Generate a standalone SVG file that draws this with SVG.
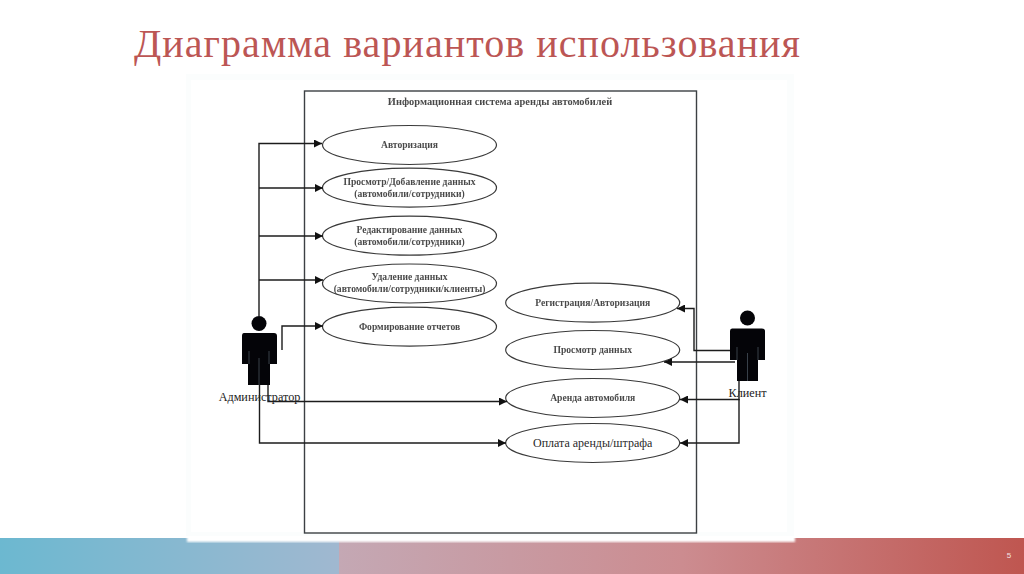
<svg xmlns="http://www.w3.org/2000/svg" width="1024" height="574" viewBox="0 0 1024 574">
<style>
.u{fill:#fff;stroke:#3a3a3a;stroke-width:1.2}
.c{fill:none;stroke:#1c1c1c;stroke-width:1.4}
.t{font-family:"Liberation Serif","DejaVu Serif",serif;font-size:9.6px;fill:#2a2a2a;text-anchor:middle;font-weight:bold;opacity:.85}
.a{font-family:"Liberation Serif","DejaVu Serif",serif;font-size:12.2px;fill:#222;text-anchor:middle}
.p{fill:#040408}
</style>
<defs>
<linearGradient id="g1" x1="0" y1="0" x2="1" y2="0"><stop offset="0" stop-color="#6cb8d0"/><stop offset="1" stop-color="#a0b8d0"/></linearGradient>
<linearGradient id="g2" x1="0" y1="0" x2="1" y2="0"><stop offset="0" stop-color="#c4a8b4"/><stop offset=".5" stop-color="#cc8c90"/><stop offset="1" stop-color="#bf5650"/></linearGradient>
<marker id="ar" markerUnits="userSpaceOnUse" markerWidth="9" markerHeight="8" refX="8" refY="4" orient="auto"><path d="M0 0L8 4L0 8z" fill="#111"/></marker>
<filter id="b" x="-2%" y="-2%" width="104%" height="104%"><feGaussianBlur stdDeviation="1.2"/></filter>
</defs>
<rect width="1024" height="574" fill="#fff"/>
<g id="footer">
<rect x="0" y="538" width="339" height="36" fill="url(#g1)"/>
<rect x="339" y="538" width="685" height="36" fill="url(#g2)"/>
<rect x="187" y="530" width="608" height="12" fill="#fff" filter="url(#b)"/>
<text x="1009" y="558" font-family="'Liberation Sans',sans-serif" font-size="8px" fill="#f4e4e4" text-anchor="middle">5</text>
</g>
<text id="title" x="134" y="57" font-family="'Liberation Serif','DejaVu Serif',serif" font-size="40px" letter-spacing="1.05" fill="#bc5654">Диаграмма вариантов использования</text>
<g id="panel"><rect x="186" y="74" width="608" height="462" fill="#fbfdfd"/><rect x="191" y="80" width="596" height="452" fill="#fff"/></g>
<g id="system"><rect x="304.500" y="91" width="392" height="442" fill="#fff" stroke="#3c4044" stroke-width="1.4"/>
<text class="t" x="500" y="105" style="font-size:10.400px">Информационная система аренды автомобилей</text></g>
<g id="uc1"><ellipse class="u" cx="409.500" cy="145" rx="87" ry="19.500"/><text class="t" x="409.500" y="148">Авторизация</text></g>
<g id="uc2"><ellipse class="u" cx="409.500" cy="187.700" rx="87" ry="19.500"/><text class="t" x="409.500" y="185">Просмотр/Добавление данных</text><text class="t" x="409.500" y="197">(автомобили/сотрудники)</text></g>
<g id="uc3"><ellipse class="u" cx="409.500" cy="235.700" rx="87" ry="19.500"/><text class="t" x="409.500" y="233">Редактирование данных</text><text class="t" x="409.500" y="245">(автомобили/сотрудники)</text></g>
<g id="uc4"><ellipse class="u" cx="409.500" cy="283.500" rx="87" ry="19.500"/><text class="t" x="409.500" y="280">Удаление данных</text><text class="t" x="409.500" y="292">(автомобили/сотрудники/клиенты)</text></g>
<g id="uc5"><ellipse class="u" cx="409.500" cy="326.700" rx="87" ry="19.500"/><text class="t" x="409.500" y="330">Формирование отчетов</text></g>
<g id="uc6"><ellipse class="u" cx="592.700" cy="302.700" rx="87" ry="19.500"/><text class="t" x="592.700" y="306">Регистрация/Авторизация</text></g>
<g id="uc7"><ellipse class="u" cx="592.700" cy="350" rx="87" ry="19.500"/><text class="t" x="592.700" y="353">Просмотр данных</text></g>
<g id="uc8"><ellipse class="u" cx="592.700" cy="398" rx="87" ry="19.500"/><text class="t" x="592.700" y="401">Аренда автомобиля</text></g>
<g id="uc9"><ellipse class="u" cx="592.700" cy="443" rx="87" ry="19.500"/><text class="t" x="592.700" y="447" style="font-size:12px;font-weight:normal;opacity:1">Оплата аренды/штрафа</text></g>
<g id="connectors">
<path class="c" marker-end="url(#ar)" d="M259 316V143.500H322"/>
<path class="c" marker-end="url(#ar)" d="M259 188H323"/>
<path class="c" marker-end="url(#ar)" d="M259 236H323"/>
<path class="c" marker-end="url(#ar)" d="M259 280H323"/>
<path class="c" marker-end="url(#ar)" d="M282 350V326H323"/>
<path class="c" marker-end="url(#ar)" d="M268 385V401.500H507"/>
<path class="c" marker-end="url(#ar)" d="M259.500 385V443H506"/>
<path class="c" marker-end="url(#ar)" d="M730 350.500H694V308.500H677"/>
<path class="c" marker-end="url(#ar)" d="M735 362H664"/>
<path class="c" marker-end="url(#ar)" d="M739 380V399.500H680"/>
<path class="c" marker-end="url(#ar)" d="M739 399V443H680"/>
</g>
<g id="admin">
<circle class="p" cx="259" cy="323.500" r="7.500"/>
<path class="p" d="M244 333H274Q277 333 277 336V364H270V385H248V364H242V336Q242 333 244 333Z"/>
<path d="M249 351V364M259 358V385M269 351V364" stroke="#46505a" stroke-width=".8" fill="none"/>
<text class="a" x="259.500" y="400.500">Администратор</text>
</g>
<g id="client">
<circle class="p" cx="747.500" cy="318" r="7.500"/>
<path class="p" d="M732 328.500H762Q765 328.500 765 331V360H758V381H737V360H730V331Q730 328.500 732 328.500Z"/>
<path d="M737 347V360M747.500 353V381M758 347V360" stroke="#46505a" stroke-width=".8" fill="none"/>
<text class="a" x="747.500" y="397">Клиент</text>
</g>
</svg>
